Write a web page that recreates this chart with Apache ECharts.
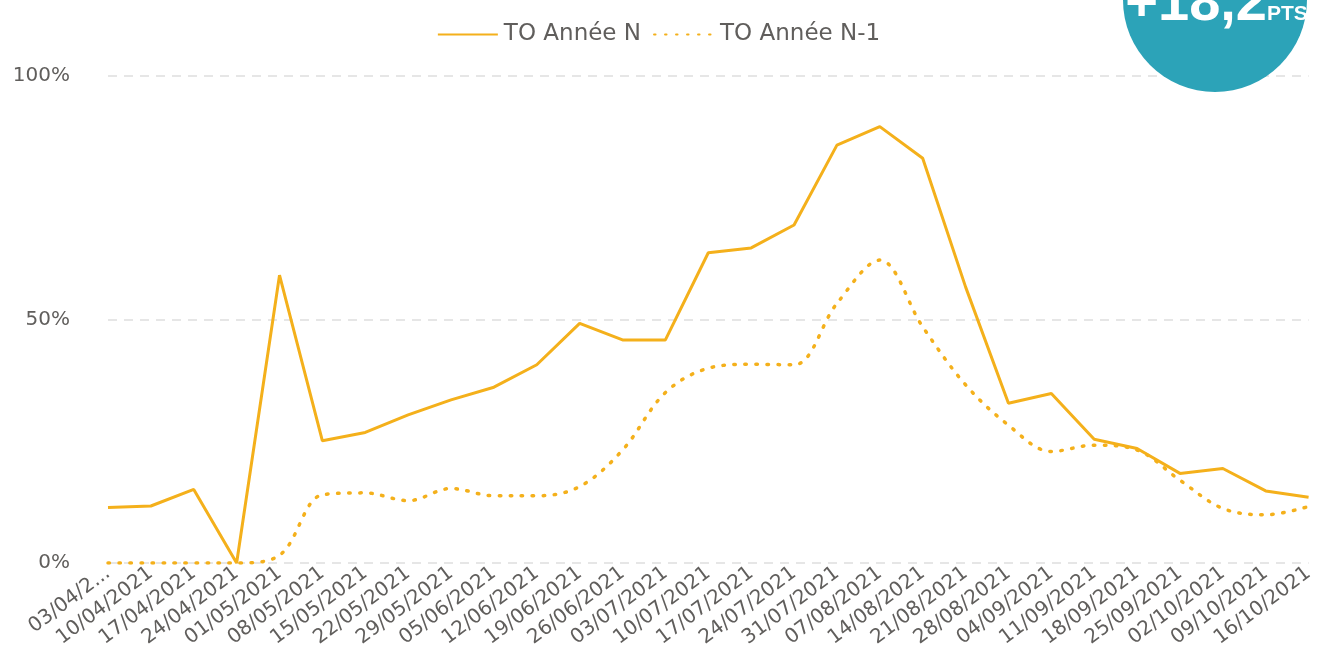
<!DOCTYPE html>
<html>
<head>
<meta charset="utf-8">
<script src="https://cdn.jsdelivr.net/npm/echarts@6/dist/echarts.min.js"></script>
<style>
    html, body { margin: 0; padding: 0; background: #fff; }
    #chart { width: 1317px; height: 655px; }
</style>
</head>
<body>
<div id="chart"></div>
<script>
// semaines
var weeks = ['03/04/2021', '10/04/2021', '17/04/2021', '24/04/2021', '01/05/2021', '08/05/2021',
    '15/05/2021', '22/05/2021', '29/05/2021', '05/06/2021', '12/06/2021', '19/06/2021',
    '26/06/2021', '03/07/2021', '10/07/2021', '17/07/2021', '24/07/2021', '31/07/2021',
    '07/08/2021', '14/08/2021', '21/08/2021', '28/08/2021', '04/09/2021', '11/09/2021',
    '18/09/2021', '25/09/2021', '02/10/2021', '09/10/2021', '16/10/2021'];
// taux d'occupation (%)
var toN = [11.4, 11.7, 15.1, 0, 59.1, 25.1, 26.8, 30.4, 33.5, 36.1, 40.7, 49.2, 45.8, 45.8,
    63.7, 64.7, 69.4, 85.8, 89.6, 83.1, 56.7, 32.8, 34.8, 25.4, 23.5, 18.4, 19.4, 14.8, 13.5];
var toN1 = [0, 0, 0, 0, 1.6, 14.0, 14.4, 12.8, 15.3, 13.8, 13.8, 15.7, 23.2, 35.0,
    40.0, 40.8, 40.7, 53.3, 62.2, 48.5, 36.6, 28.3, 22.9, 24.2, 23.2, 17.0, 11.2, 9.9, 11.6];
var seriesNames = ['TO Année N', 'TO Année N-1'];
var yTicks = [0, 50, 100];
var badgeValue = '+18,2';
var badgeUnit = 'PTS';

var lineColor = '#F4B01B';
var textColor = '#605E5C';
var font = 'DejaVu Sans';

var option = {
    backgroundColor: '#fff',
    legend: {
        top: 18,
        left: 'center',
        itemWidth: 60,
        itemHeight: 14,
        itemGap: 12,
        itemStyle: { color: 'transparent', borderColor: 'transparent', borderWidth: 0 },
        textStyle: { color: textColor, fontSize: 23, fontFamily: font, padding: [0, 0, 0, 1] },
        data: seriesNames
    },
    grid: {
        left: 108,
        right: 2,
        top: 76,
        bottom: 92,
        containLabel: false
    },
    xAxis: {
        type: 'category',
        boundaryGap: false,
        data: weeks,
        axisLine: { show: false },
        axisTick: { show: false },
        axisLabel: {
            rotate: 37,
            interval: 0,
            margin: 8,
            color: textColor,
            fontSize: 20,
            fontFamily: font,
            formatter: function (v, i) {
                // le premier libellé est coupé au bord
                return i === 0 ? v.slice(0, 7) + '...' : v;
            }
        }
    },
    yAxis: {
        type: 'value',
        min: yTicks[0],
        max: yTicks[yTicks.length - 1],
        interval: yTicks[1] - yTicks[0],
        axisLine: { show: false },
        axisTick: { show: false },
        axisLabel: {
            margin: 38,
            color: textColor,
            fontSize: 20,
            fontFamily: font,
            formatter: '{value}%'
        },
        splitLine: {
            lineStyle: { color: '#E6E6E6', width: 2, type: [9, 7] }
        }
    },
    series: [
        {
            name: seriesNames[0],
            type: 'line',
            symbol: 'none',
            itemStyle: { color: lineColor },
            lineStyle: { color: lineColor, width: 3 },
            data: toN
        },
        {
            name: seriesNames[1],
            type: 'line',
            symbol: 'none',
            smooth: 0.35,
            itemStyle: { color: lineColor },
            lineStyle: { color: lineColor, width: 3.5, type: [1.5, 9.5], cap: 'round' },
            data: toN1
        }
    ],
    graphic: [
        {
            type: 'circle',
            shape: { cx: 1215, cy: 0, r: 92 },
            style: { fill: '#2CA3B8' },
            z: 100
        },
        {
            // écart en points
            type: 'text',
            x: 1267,
            y: 33,
            z: 101,
            style: {
                text: badgeValue,
                align: 'right',
                verticalAlign: 'bottom',
                fill: '#fff',
                fontSize: 56,
                fontWeight: 'bold',
                fontFamily: 'Liberation Sans'
            }
        },
        {
            type: 'text',
            x: 1267,
            y: 25,
            z: 101,
            style: {
                text: badgeUnit,
                align: 'left',
                verticalAlign: 'bottom',
                fill: '#fff',
                fontSize: 21,
                fontWeight: 'bold',
                fontFamily: 'Liberation Sans'
            }
        }
    ]
};

var myChart = echarts.init(document.getElementById('chart'));
myChart.setOption(option);
</script>
</body>
</html>
